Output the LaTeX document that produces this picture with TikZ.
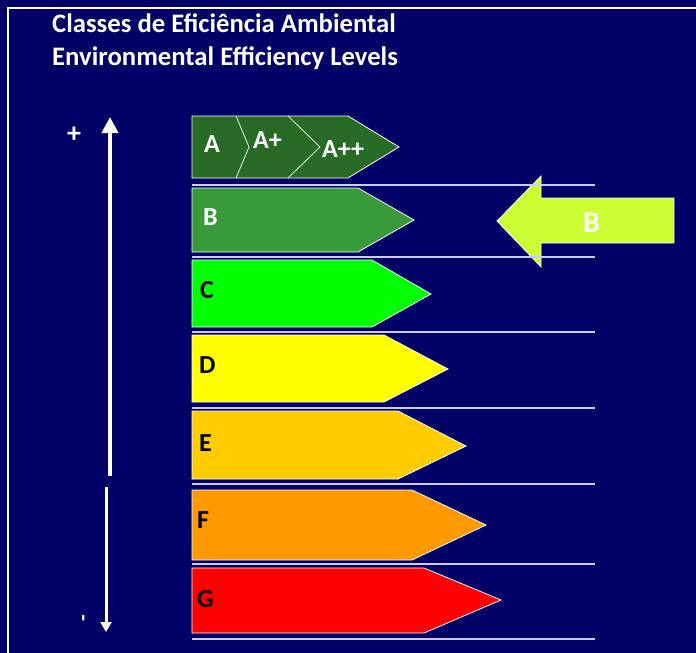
\documentclass[tikz,border=0pt]{standalone}
\usepackage{fontspec}
\setmainfont{Carlito}
\usetikzlibrary{arrows.meta,positioning}
\definecolor{navy}{HTML}{000066}
\definecolor{clsA}{HTML}{276B27}
\definecolor{clsB}{HTML}{389A38}
\definecolor{clsC}{HTML}{00FF00}
\definecolor{clsD}{HTML}{FFFF00}
\definecolor{clsE}{HTML}{FFCC00}
\definecolor{clsF}{HTML}{FF9900}
\definecolor{clsG}{HTML}{FF0000}
\definecolor{pointer}{HTML}{CCFF33}

\begin{document}
\begin{tikzpicture}[x=1pt, y=-1pt,
    bar/.style={draw=white, line width=0.8pt},
    sep/.style={draw=white!80!blue, line width=1.3pt},
    lbl/.style={font=\bfseries\fontsize{26}{30}\selectfont, anchor=base west, inner sep=0pt},
    title/.style={font=\bfseries\fontsize{26.7}{30}\selectfont, text=white, anchor=base west, inner sep=0pt}]

    % Background and frame
    \fill[navy] (0,0) rectangle (696,653);
    \useasboundingbox (0,0) rectangle (696,653);
    \draw[white, line width=2.5pt] (8,653) -- (8,8) -- (696,8);

    % Title
    \node[title] (title1) at (52,32) {Classes de Eficiência Ambiental};
    \node[title] (title2) at (52,65) {Environmental Efficiency Levels};

    % Scale arrows
    \coordinate (upS) at (110,476);
    \coordinate (upE) at (110,117);
    \coordinate (downS) at (106,487);
    \coordinate (downE) at (106,632);
    \draw[white, line width=4pt, -{Triangle[width=16pt,length=16pt]}] (upS) -- (upE);
    \draw[white, line width=3pt, -{Triangle[width=11pt,length=10pt]}] (downS) -- (downE);
    \node[text=white, font=\bfseries\fontsize{28}{30}\selectfont] (plus) at (74,135) {+};
    \node[text=white, font=\bfseries\fontsize{22}{26}\selectfont, rotate=90] (minus) at (86,618) {-};

    % Class A row
    \filldraw[bar, fill=clsA] (192,116) -- (348,116) -- (399,147) -- (348,178) -- (192,178) -- cycle;
    \draw[white, line width=0.7pt] (236,116) -- (249,147) -- (236,178);
    \draw[white, line width=0.7pt] (288,116) -- (320,147) -- (288,178);
    \node[lbl, text=white] (lblA) at (204,152) {A};
    \node[lbl, text=white] (lblAp) at (253,148) {A+};
    \node[lbl, text=white] (lblApp) at (322,157) {A++};

    % Class bars
    \filldraw[bar, fill=clsB] (192,188) -- (358,188) -- (414,220) -- (358,252) -- (192,252) -- cycle;
    \node[lbl, text=white] (lblB) at (203,225) {B};
    \filldraw[bar, fill=clsC] (192,260) -- (372,260) -- (431,294) -- (372,327) -- (192,327) -- cycle;
    \node[lbl] (lblC) at (200,298) {C};
    \filldraw[bar, fill=clsD] (192,335) -- (384,335) -- (448,369) -- (384,402) -- (192,402) -- cycle;
    \node[lbl] (lblD) at (199,373) {D};
    \filldraw[bar, fill=clsE] (192,411) -- (398,411) -- (466,446) -- (398,479) -- (192,479) -- cycle;
    \node[lbl] (lblE) at (199,451) {E};
    \filldraw[bar, fill=clsF] (192,490) -- (412,490) -- (486,525) -- (412,560) -- (192,560) -- cycle;
    \node[lbl] (lblF) at (197,528) {F};
    \filldraw[bar, fill=clsG] (192,568) -- (424,568) -- (501,600) -- (424,633) -- (192,633) -- cycle;
    \node[lbl] (lblG) at (197,607) {G};

    % Current class pointer
    \filldraw[draw=white, line width=0.8pt, fill=pointer] (674,198) -- (541,198) -- (541,176) -- (497,221)
        -- (541,267) -- (541,243) -- (674,243) -- cycle;
    \node[lbl, text=white, font=\bfseries\fontsize{30}{34}\selectfont] (lblCur) at (583,232) {B};

    % Separators
    \draw[sep] (192,185) -- (595,185);
    \draw[sep] (192,257) -- (595,257);
    \draw[sep] (192,332) -- (595,332);
    \draw[sep] (192,408) -- (595,408);
    \draw[sep] (192,484) -- (595,484);
    \draw[sep] (192,564) -- (595,564);
    \draw[sep] (192,639) -- (595,639);

\end{tikzpicture}
\end{document}
